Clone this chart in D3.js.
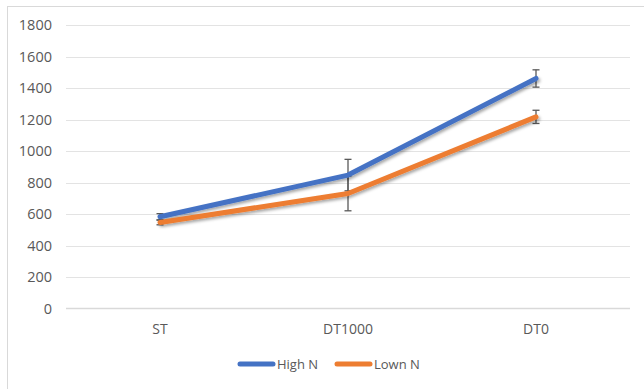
<!DOCTYPE html>
<html><head><meta charset="utf-8">
<script src="https://cdn.jsdelivr.net/npm/d3@7/dist/d3.min.js"></script>
<style>body{margin:0;background:#fff}svg{display:block}</style>
</head><body>
<svg id="c" width="644" height="389"></svg>
<script>
const categories = ["ST", "DT1000", "DT0"];
const seriesNames = ["High N", "Lown N"];
const highN = [583, 848, 1462];
const highNErr = [20, 100, 55];
const lownN = [547, 731, 1218];
const lownNErr = [15, 110, 42];
const yTicks = [0, 200, 400, 600, 800, 1000, 1200, 1400, 1600, 1800];
const colors = ["#4472C4", "#ED7D31"];

(function () {
const svg = d3.select("#c");
const font = "'Open Sans', 'Liberation Sans', sans-serif";
svg.append("rect").attr("x", 7.5).attr("y", 6.5).attr("width", 660).attr("height", 400)
  .attr("fill", "none").attr("stroke", "#d9d9d9").attr("stroke-width", 1);

const pLeft = 66, pRight = 630, pTop = 25.3, pBottom = 308.5;
const x = d3.scaleBand().domain(categories).range([pLeft, pRight]);
const y = d3.scaleLinear().domain([0, 1800]).range([pBottom, pTop]);

const defs = svg.append("defs");
const f = defs.append("filter").attr("id", "sh").attr("x", "-10%").attr("y", "-50%").attr("width", "120%").attr("height", "200%");
f.append("feDropShadow").attr("dx", 1.5).attr("dy", 2).attr("stdDeviation", 1.5).attr("flood-color", "#000").attr("flood-opacity", 0.35);

svg.append("g").selectAll("line").data(yTicks.filter(d => d > 0)).join("line")
  .attr("x1", pLeft).attr("x2", pRight).attr("y1", d => Math.round(y(d)) + 0.5).attr("y2", d => Math.round(y(d)) + 0.5)
  .attr("stroke", "#e3e3e3").attr("stroke-width", 1);
svg.append("line").attr("x1", pLeft).attr("x2", pRight).attr("y1", y(0)).attr("y2", y(0))
  .attr("stroke", "#d9d9d9").attr("stroke-width", 1.5);

const yAxis = d3.axisLeft(y).tickValues(yTicks).tickFormat(d3.format("d")).tickSize(0).tickPadding(0);
const ya = svg.append("g").attr("transform", `translate(52,0)`).call(yAxis);
ya.select(".domain").remove();
ya.selectAll("text").attr("fill", "#595959").style("font-family", font).style("font-size", "14.5px");

const xAxis = d3.axisBottom(x).tickSize(0).tickPadding(0);
const xa = svg.append("g").attr("transform", `translate(0,${pBottom + 16})`).call(xAxis);
xa.select(".domain").remove();
xa.selectAll("text").attr("fill", "#595959").style("font-family", font).style("font-size", "14px");

const cx = d => x(d) + x.bandwidth() / 2;
const line = d3.line().x(d => cx(d.c)).y(d => y(d.v));
const series = [
  {name: seriesNames[0], vals: highN, err: highNErr, color: colors[0]},
  {name: seriesNames[1], vals: lownN, err: lownNErr, color: colors[1]}
];

series.forEach(s => {
  const g = svg.append("g").attr("stroke", "#595959").attr("stroke-width", 1.3);
  s.vals.forEach((v, i) => {
    const xc = cx(categories[i]);
    g.append("line").attr("x1", xc).attr("x2", xc).attr("y1", y(v + s.err[i])).attr("y2", y(v - s.err[i]));
    g.append("line").attr("x1", xc - 3.5).attr("x2", xc + 3.5).attr("y1", y(v + s.err[i])).attr("y2", y(v + s.err[i]));
    g.append("line").attr("x1", xc - 3.5).attr("x2", xc + 3.5).attr("y1", y(v - s.err[i])).attr("y2", y(v - s.err[i]));
  });
});

series.forEach(s => {
  svg.append("path").datum(s.vals.map((v, i) => ({c: categories[i], v})))
    .attr("d", line).attr("fill", "none").attr("stroke", s.color).attr("stroke-width", 5)
    .attr("stroke-linejoin", "round").attr("stroke-linecap", "round").attr("filter", "url(#sh)");
});

const lg = svg.append("g");
const legX = [238, 335];
series.forEach((s, i) => {
  lg.append("line").attr("x1", legX[i] + 2).attr("x2", legX[i] + 35).attr("y1", 364).attr("y2", 364)
    .attr("stroke", s.color).attr("stroke-width", 5).attr("stroke-linecap", "round");
  lg.append("text").attr("x", legX[i] + 39).attr("y", 369).text(s.name)
    .attr("fill", "#595959").style("font-family", font).style("font-size", "13px");
});
})();
</script>
</body></html>
